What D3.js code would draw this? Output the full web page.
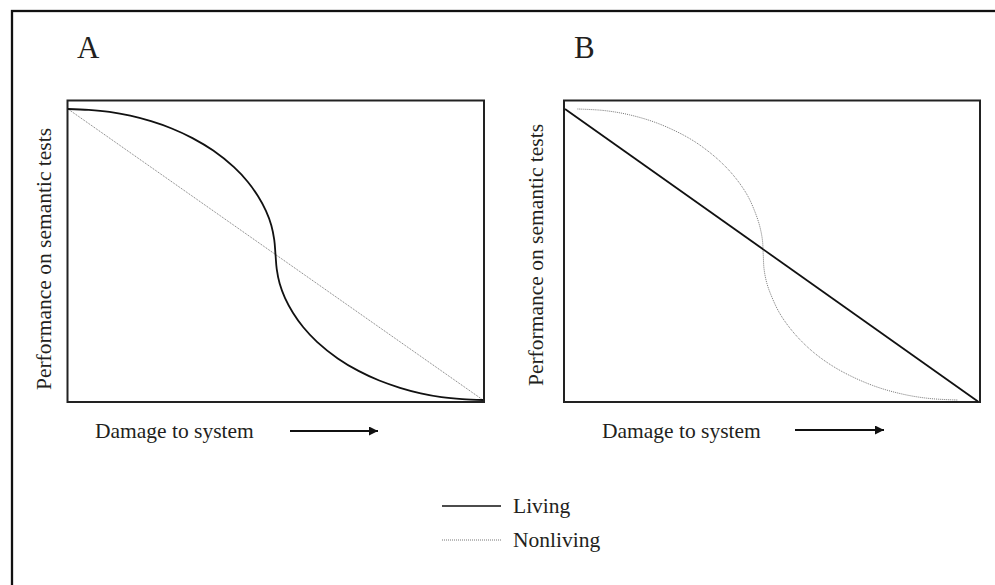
<!DOCTYPE html>
<html>
<head>
<meta charset="utf-8">
<script src="https://cdn.jsdelivr.net/npm/d3@7"></script>
<style>
  html, body { margin: 0; padding: 0; background: #fff; }
  svg text { font-family: "Liberation Serif", "Times New Roman", serif; fill: #231f20; }
</style>
</head>
<body>
<div id="chart"></div>
<script>
// パネル名
const panelLabels = ["A", "B"];
const yAxisLabel = "Performance on semantic tests";
const xAxisLabel = "Damage to system";
const seriesNames = ["Living", "Nonliving"];

// 読み取った曲線 (x: damage 0-1, y: performance 0-1)
const livingA = [
  [0, 1], [0.05, 0.997], [0.1, 0.99], [0.15, 0.977], [0.2, 0.958], [0.25, 0.933],
  [0.3, 0.9], [0.35, 0.857], [0.4, 0.8], [0.433, 0.75], [0.458, 0.7], [0.477, 0.65],
  [0.49, 0.6], [0.497, 0.55], [0.5, 0.5], [0.503, 0.45], [0.51, 0.4], [0.523, 0.35],
  [0.542, 0.3], [0.567, 0.25], [0.6, 0.2], [0.65, 0.143], [0.7, 0.1], [0.75, 0.067],
  [0.8, 0.042], [0.85, 0.023], [0.9, 0.01], [0.95, 0.003], [1, 0]
];
const nonlivingA = [[0, 1], [1, 0]];

const livingB = [[0, 1], [1, -0.005]];
const nonlivingB = [
  [0.03, 1], [0.093, 0.995], [0.156, 0.98], [0.226, 0.95], [0.3, 0.9], [0.351, 0.85],
  [0.39, 0.8], [0.42, 0.75], [0.443, 0.7], [0.459, 0.65], [0.471, 0.6], [0.478, 0.55],
  [0.48, 0.5], [0.482, 0.45], [0.489, 0.4], [0.502, 0.35], [0.519, 0.3], [0.543, 0.25],
  [0.574, 0.2], [0.614, 0.15], [0.668, 0.1], [0.745, 0.05], [0.818, 0.02], [0.884, 0.005],
  [0.95, 0]
];

const width = 995, height = 585;

const svg = d3.select("#chart").append("svg")
    .attr("width", width)
    .attr("height", height);

// 外枠 (右と下ははみ出す)
svg.append("rect")
    .attr("x", 12).attr("y", 11)
    .attr("width", 1200).attr("height", 1200)
    .attr("fill", "none")
    .attr("stroke", "#111")
    .attr("stroke-width", 2.3);

// 矢印マーカー
svg.append("defs").append("marker")
    .attr("id", "arrow")
    .attr("viewBox", "0 0 10 10")
    .attr("refX", 10).attr("refY", 5)
    .attr("markerUnits", "userSpaceOnUse")
    .attr("markerWidth", 11).attr("markerHeight", 9)
    .attr("orient", "auto")
  .append("path")
    .attr("d", "M0,0 L10,5 L0,10 Z")
    .attr("fill", "#111");

const panels = [
  { label: panelLabels[0], box: [67.5, 100.5, 484, 402], xr: [68, 483], living: livingA, nonliving: nonlivingA,
    labelX: 77, yLabelX: 51, yLabelY: 259, damageX: 95, arrow: [290, 378, 431] },
  { label: panelLabels[1], box: [564, 100.5, 980, 402], xr: [565, 978], living: livingB, nonliving: nonlivingB,
    labelX: 574, yLabelX: 543, yLabelY: 255, damageX: 602, arrow: [795, 884, 430] }
];

const yScale = d3.scaleLinear().domain([0, 1]).range([400, 109]);

panels.forEach(p => {
    const xScale = d3.scaleLinear().domain([0, 1]).range(p.xr);
    const line = d3.line()
        .x(d => xScale(d[0]))
        .y(d => yScale(d[1]))
        .curve(d3.curveCatmullRom.alpha(0.5));

    const g = svg.append("g");

    // パネル記号
    g.append("text")
        .attr("x", p.labelX).attr("y", 58)
        .attr("font-size", 31)
        .text(p.label);

    // 枠
    g.append("rect")
        .attr("x", p.box[0]).attr("y", p.box[1])
        .attr("width", p.box[2] - p.box[0])
        .attr("height", p.box[3] - p.box[1])
        .attr("fill", "none")
        .attr("stroke", "#222")
        .attr("stroke-width", 2);

    // Nonliving (点線)
    g.append("path")
        .datum(p.nonliving)
        .attr("d", line)
        .attr("fill", "none")
        .attr("stroke", "#777")
        .attr("stroke-width", 1)
        .attr("stroke-dasharray", "1,1");

    // Living (実線)
    g.append("path")
        .datum(p.living)
        .attr("d", line)
        .attr("fill", "none")
        .attr("stroke", "#111")
        .attr("stroke-width", 1.8);

    // y軸ラベル
    g.append("text")
        .attr("transform", `translate(${p.yLabelX},${p.yLabelY}) rotate(-90)`)
        .attr("text-anchor", "middle")
        .attr("font-size", 21.5)
        .text(yAxisLabel);

    // x軸ラベルと矢印
    g.append("text")
        .attr("x", p.damageX).attr("y", 438)
        .attr("font-size", 21.5)
        .text(xAxisLabel);

    g.append("line")
        .attr("x1", p.arrow[0]).attr("x2", p.arrow[1])
        .attr("y1", p.arrow[2]).attr("y2", p.arrow[2])
        .attr("stroke", "#111")
        .attr("stroke-width", 2)
        .attr("marker-end", "url(#arrow)");
});

// 凡例
const legend = svg.append("g");
seriesNames.forEach((name, i) => {
    const y = 506 + i * 34;
    legend.append("line")
        .attr("x1", 442).attr("x2", 501)
        .attr("y1", y).attr("y2", y)
        .attr("stroke", i === 0 ? "#111" : "#777")
        .attr("stroke-width", i === 0 ? 1.3 : 1)
        .attr("stroke-dasharray", i === 0 ? null : "1,1");
    legend.append("text")
        .attr("x", 513).attr("y", y + 7)
        .attr("font-size", 21.5)
        .text(name);
});
</script>
</body>
</html>
